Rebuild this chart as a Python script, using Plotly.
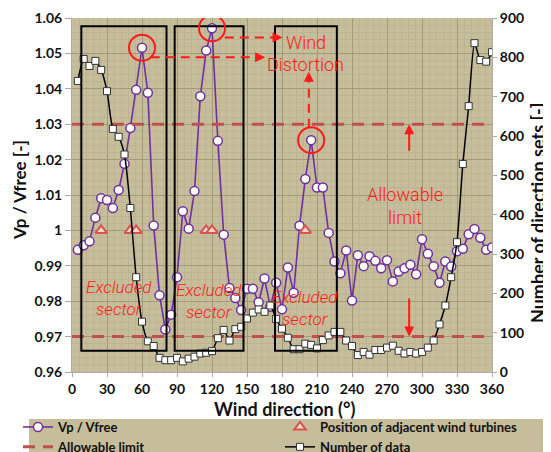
import plotly.graph_objects as go

# ---------------- data ----------------
directions = list(range(5, 365, 5))
vp_ratio = [0.9945, 0.9958, 0.9969, 1.0036, 1.0091, 1.0086, 1.0063, 1.0114, 1.0188, 1.0289,
            1.0397, 1.0516, 1.0389, 1.0014, 0.9817, 0.9720, 0.9762, 0.9868, 1.0054, 1.0005,
            1.0111, 1.0379, 1.0508, 1.0571, 1.0253, 0.9988, 0.9837, 0.9809, 0.9775, 0.9835,
            0.9835, 0.9797, 0.9864, 0.9784, 0.9852, 0.9777, 0.9895, 0.9824, 1.0013, 1.0145,
            1.0255, 1.0121, 1.0121, 0.9993, 0.9912, 0.9879, 0.9943, 0.9802, 0.9930, 0.9899,
            0.9927, 0.9914, 0.9893, 0.9916, 0.9856, 0.9884, 0.9893, 0.9903, 0.9876, 0.9975,
            0.9934, 0.9899, 0.9852, 0.9912, 0.9898, 0.9941, 0.9948, 0.9989, 1.0004, 0.9979,
            0.9945, 0.9952]
n_data = [740, 796, 778, 791, 768, 714, 618, 598, 553, 417,
          241, 128, 78, 66, 36, 30, 30, 36, 27, 34,
          39, 47, 49, 53, 86, 107, 80, 109, 115, 136,
          151, 159, 153, 169, 135, 110, 87, 58, 58, 72,
          69, 60, 81, 93, 102, 102, 80, 66, 43, 51,
          44, 56, 56, 62, 67, 54, 47, 51, 47, 51,
          62, 80, 121, 169, 241, 330, 529, 676, 836, 793,
          789, 813]
turbine_dirs = [25, 50, 55, 115, 120, 200]
turbine_vals = [1.0, 1.0, 1.0, 1.0, 1.0, 1.0]
limit_upper = 1.03
limit_lower = 0.97
excluded_sectors = [(8, 81), (88, 147), (174, 227)]
excluded_top = 1.0577
excluded_bottom = 0.966
distortion_peaks = [60, 120, 205]
x_ticks = list(range(0, 390, 30))

RED = "#ff1a1a"
LIMIT_RED = "#c0504d"
PURPLE = "#7030a0"
BG = "#c6bd9b"
GRID = "#a39b78"
FONT = "Lato"
OFF = 8                      # default page body margin
W, H = 551 - OFF, 452 - OFF  # figure size inside the window
ML, MT, MR, MB = 64, 10, 59, 80
PW, PH = W - ML - MR, H - MT - MB

def px_x(wx):
    return (wx - OFF - ML) / PW

def px_y(wy):
    return (MT + PH - (wy - OFF)) / PH

fig = go.Figure()

fig.add_trace(go.Scatter(
    x=directions, y=vp_ratio, mode="lines+markers", name="Vp / Vfree", legend="legend",
    line=dict(color=PURPLE, width=1.6),
    marker=dict(symbol="circle", size=9, color="white", line=dict(color=PURPLE, width=1.5)),
))
fig.add_trace(go.Scatter(
    x=[0, 360], y=[limit_upper, limit_upper], mode="lines", name="Allowable limit", legend="legend",
    line=dict(color=LIMIT_RED, width=3, dash="12px,8px"),
))
fig.add_trace(go.Scatter(
    x=[0, 360], y=[limit_lower, limit_lower], mode="lines", showlegend=False,
    line=dict(color=LIMIT_RED, width=3, dash="12px,8px"),
))
fig.add_trace(go.Scatter(
    x=directions, y=n_data, mode="lines+markers", name="Number of data", yaxis="y2", legend="legend2",
    line=dict(color="black", width=1.5, shape="spline", smoothing=0.6),
    marker=dict(symbol="square", size=7, color="white", line=dict(color="#333333", width=1)),
))
fig.add_trace(go.Scatter(
    x=turbine_dirs, y=turbine_vals, mode="markers", name="Position of adjacent wind turbines",
    legend="legend2",
    marker=dict(symbol="triangle-up", size=10, color="#f4d6cc", line=dict(color="#d9534f", width=2)),
))

# excluded sector boxes
for (a, b) in excluded_sectors:
    fig.add_shape(type="rect", xref="x", yref="y", x0=a, x1=b, y0=excluded_bottom, y1=excluded_top,
                  line=dict(color="black", width=2), fillcolor="rgba(0,0,0,0)", layer="above")

# circles around distortion peaks
for d in distortion_peaks:
    v = vp_ratio[directions.index(d)]
    fig.add_shape(type="circle", xref="x", yref="y", xsizemode="pixel", ysizemode="pixel",
                  xanchor=d, yanchor=v, x0=-13, x1=13, y0=-13, y1=13,
                  line=dict(color=RED, width=2), layer="above")

# dashed arrows to "Wind Distortion"
dash_lines = [((67.5, 1.0489), (164, 1.0489)), ((131, 1.0545), (179, 1.0545)), ((203, 1.0290), (203, 1.0440))]
for (p0, p1) in dash_lines:
    fig.add_shape(type="line", xref="x", yref="y", x0=p0[0], y0=p0[1], x1=p1[0], y1=p1[1],
                  line=dict(color=RED, width=2, dash="9px,6px"), layer="above")
fig.add_annotation(x=165.5, y=1.0489, ax=-6, ay=0, showarrow=True, arrowhead=2, arrowsize=1,
                   arrowwidth=2, arrowcolor=RED, text="")
fig.add_annotation(x=180.5, y=1.0545, ax=-6, ay=0, showarrow=True, arrowhead=2, arrowsize=1,
                   arrowwidth=2, arrowcolor=RED, text="")
fig.add_annotation(x=203, y=1.0448, ax=0, ay=6, showarrow=True, arrowhead=2, arrowsize=1,
                   arrowwidth=2, arrowcolor=RED, text="")

fig.add_annotation(x=200.5, y=1.0532, xref="x", yref="y", text="Wind", showarrow=False,
                   font=dict(family="Roboto", size=18, color=RED, weight=300))
fig.add_annotation(x=200.5, y=1.0470, xref="x", yref="y", text="Distortion", showarrow=False,
                   font=dict(family="Roboto", size=18, color=RED, weight=300))

# allowable limit
fig.add_annotation(x=285, y=1.0070, text="Allowable<br>limit", showarrow=False,
                   font=dict(family="Roboto", size=18, color=RED, weight=300))
fig.add_annotation(x=289, y=limit_upper, ax=289, ay=1.0221, axref="x", ayref="y",
                   showarrow=True, arrowhead=2, arrowsize=1, arrowwidth=2, arrowcolor=RED, text="")
fig.add_annotation(x=289, y=limit_lower, ax=289, ay=0.9812, axref="x", ayref="y",
                   showarrow=True, arrowhead=2, arrowsize=1, arrowwidth=2, arrowcolor=RED, text="")

# excluded sector labels
for (xc, yc) in [(40.5, 0.9808), (117, 0.9800), (200, 0.9782)]:
    fig.add_annotation(x=xc, y=yc, text="<i>Excluded<br>sector</i>", showarrow=False,
                       font=dict(family="Roboto", size=17, color=RED, weight=300))

# axis titles
title_font = dict(family=FONT, size=17, color="#111111", weight="bold")
fig.add_annotation(xref="paper", yref="paper", x=px_x(19), y=px_y(190), text="Vp / Vfree [-]",
                   textangle=-90, showarrow=False, xanchor="center", yanchor="middle", font=title_font)
fig.add_annotation(xref="paper", yref="paper", x=px_x(538), y=px_y(213),
                   text="Number of direction sets [-]", textangle=-90, showarrow=False,
                   xanchor="center", yanchor="middle", font=dict(title_font, size=18))
fig.add_annotation(xref="paper", yref="paper", x=px_x(285), y=px_y(409), text="Wind direction (°)",
                   showarrow=False, xanchor="center", yanchor="middle", font=dict(title_font, size=18))

# legend background band
fig.add_shape(type="rect", xref="paper", yref="paper",
              x0=px_x(29), x1=px_x(600), y0=px_y(470), y1=px_y(419),
              fillcolor=BG, line=dict(width=0), layer="below")

legend_font = dict(family=FONT, size=13, color="#111111", weight="bold")
leg_top = 1 - (412 - OFF) / H
fig.update_layout(
    width=W, height=H,
    margin=dict(l=ML, r=MR, t=MT, b=MB, autoexpand=False),
    paper_bgcolor="white", plot_bgcolor=BG,
    font=dict(family=FONT, color="#111111"),
    showlegend=True,
    legend=dict(orientation="v", xref="container", yref="container", x=(18 - OFF) / W, y=leg_top,
                xanchor="left", yanchor="top", bgcolor="rgba(0,0,0,0)", font=legend_font,
                itemwidth=30, tracegroupgap=0),
    legend2=dict(orientation="v", xref="container", yref="container", x=(280 - OFF) / W, y=leg_top,
                 xanchor="left", yanchor="top", bgcolor="rgba(0,0,0,0)", font=legend_font,
                 itemwidth=30, tracegroupgap=0, traceorder="reversed"),
    xaxis=dict(range=[0, 360], tickvals=x_ticks, ticks="outside", ticklen=4, tickcolor="#aaaaaa",
               showline=True, linecolor="#aaaaaa", showgrid=True, gridcolor=GRID, gridwidth=1,
               minor=dict(dtick=6, showgrid=True, gridcolor="#bdb493", gridwidth=0.5),
               tickfont=dict(family=FONT, size=14, weight="bold"), zeroline=False, automargin=False),
    yaxis=dict(range=[0.96, 1.06], dtick=0.01, tickformat="~g", ticks="outside", ticklen=6,
               tickcolor="#aaaaaa", showline=True, linecolor="#aaaaaa", showgrid=True,
               gridcolor=GRID, gridwidth=1, automargin=False,
               minor=dict(dtick=0.002, showgrid=True, gridcolor="#bdb493", gridwidth=0.5),
               tickfont=dict(family=FONT, size=14, weight="bold"), zeroline=False),
    yaxis2=dict(range=[0, 900], dtick=100, overlaying="y", side="right", ticks="outside",
                ticklen=4, tickcolor="#aaaaaa", showline=True, linecolor="#aaaaaa",
                showgrid=False, zeroline=False, automargin=False,
                tickfont=dict(family=FONT, size=14, weight="bold")),
)

fig.write_html("out.html", config={"displayModeBar": False})
